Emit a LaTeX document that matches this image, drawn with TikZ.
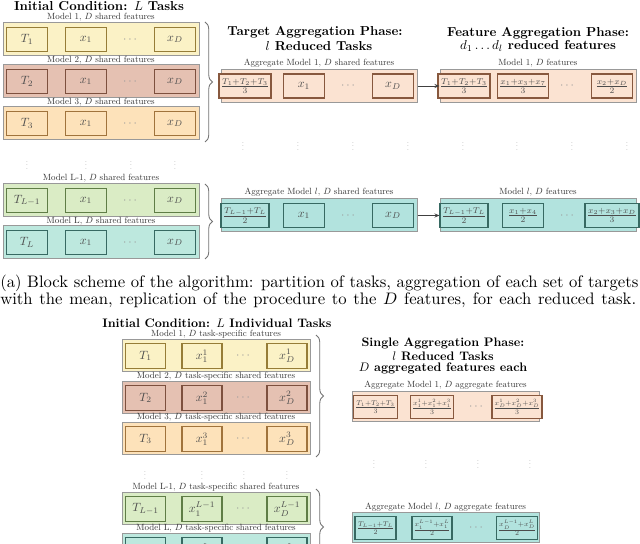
\documentclass[tikz,border=0pt]{standalone}
\usepackage{amsmath}
\usetikzlibrary{decorations.pathreplacing,arrows.meta}

\definecolor{yelF}{RGB}{251,242,198}
\definecolor{yelD}{RGB}{150,125,55}
\definecolor{salF}{RGB}{229,193,178}
\definecolor{salD}{RGB}{125,80,62}
\definecolor{oraF}{RGB}{253,226,186}
\definecolor{oraD}{RGB}{160,115,60}
\definecolor{peaF}{RGB}{251,227,210}
\definecolor{peaD}{RGB}{135,88,62}
\definecolor{grnF}{RGB}{218,236,197}
\definecolor{grnD}{RGB}{95,125,70}
\definecolor{tealF}{RGB}{189,232,222}
\definecolor{tealD}{RGB}{55,105,98}
\definecolor{tmF}{RGB}{178,227,222}

\newcommand\U{0.6pt}
\newcommand\cscale{0.72}
\newcommand\cnt[1]{\scalebox{\cscale}{#1}}
\newcommand\lbT[1]{\scalebox{0.54}{#1}}
\newcommand\ttT[1]{\scalebox{0.78}{\bfseries #1}}
\newcommand\ttB[1]{\scalebox{0.74}{\bfseries #1}}
\newcommand\geo[8]{\def\gW{#1}\def\gH{#2}\def\gA{#3}\def\gB{#4}\def\gC{#5}\def\gD{#6}\def\gIW{#7}\def\gIH{#8}}
% #1 name, #2 x0, #3 y0, #4 fill, #5 draw, #6 c1, #7 c2, #8 c4
\newcommand\rowbox[8]{%
  \node[outerbox, fill=#4, minimum width=\gW*\U, minimum height=\gH*\U] (#1) at ({#2+\gW/2},{#3+\gH/2}) {};
  \node[innerbox, draw=#5, fill=#4, minimum width=\gIW*\U, minimum height=\gIH*\U] (#1a) at ({#2+\gA},{#3+\gH/2}) {\cnt{#6}};
  \node[innerbox, draw=#5, fill=#4, minimum width=\gIW*\U, minimum height=\gIH*\U] (#1b) at ({#2+\gB},{#3+\gH/2}) {\cnt{#7}};
  \node[dotsn] (#1c) at ({#2+\gC},{#3+\gH/2}) {\scalebox{0.72}{$\cdots$}};
  \node[innerbox, draw=#5, fill=#4, minimum width=\gIW*\U, minimum height=\gIH*\U] (#1d) at ({#2+\gD},{#3+\gH/2}) {\cnt{#8}};
}

\tikzset{
  outerbox/.style={draw=black!40, line width=0.6pt, inner sep=0pt},
  innerbox/.style={line width=0.8pt, inner sep=1pt, text=black!70},
  dotsn/.style={text=black!40, inner sep=0pt},
  lbl/.style={text=black!80, inner sep=0pt},
  ttl/.style={inner sep=0pt},
  vd/.style={text=black!40, inner sep=0pt},
  brc/.style={draw=black!55, line width=0.5pt, decorate, decoration={brace, amplitude=4.5pt}},
  arr/.style={draw=black!75, line width=0.5pt, -{Stealth[length=3pt,width=2.4pt]}},
  captxt/.style={font=\fontsize{10}{12}\selectfont, inner sep=0pt, anchor=west},
}

\begin{document}
\begin{tikzpicture}[x=0.6pt, y=-0.6pt]
\useasboundingbox (0,0) rectangle (640,544);
\fill[white] (0,0) rectangle (640,544);
\begin{scope}
\clip (0,0) rectangle (640,544);

% ---------------- TOP PART ----------------
\node[ttl] (t0) at (99,6) {\ttT{Initial Condition: $L$ Tasks}};

\geo{196}{33}{24}{83}{128}{172}{41}{24}
\node[lbl] (l1) at (101,17) {\lbT{Model 1, $D$ shared features}};
\rowbox{p1}{3}{23}{yelF}{yelD}{$T_1$}{$x_1$}{$x_D$}
\node[lbl] (l2) at (101,60) {\lbT{Model 2, $D$ shared features}};
\rowbox{p2}{3}{65}{salF}{salD}{$T_2$}{$x_1$}{$x_D$}
\node[lbl] (l3) at (101,102) {\lbT{Model 3, $D$ shared features}};
\rowbox{p3}{3}{107}{oraF}{oraD}{$T_3$}{$x_1$}{$x_D$}

\foreach \xx [count=\i] in {27,86,131,175} \node[vd] (vl\i) at (\xx,163) {\scalebox{0.5}{$\vdots$}};

\node[lbl] (l4) at (101,178.5) {\lbT{Model L-1, $D$ shared features}};
\rowbox{p4}{3}{184}{grnF}{grnD}{$T_{L-1}$}{$x_1$}{$x_D$}
\node[lbl] (l5) at (101,221.5) {\lbT{Model L, $D$ shared features}};
\rowbox{p5}{3}{226}{tealF}{tealD}{$T_L$}{$x_1$}{$x_D$}

\coordinate (b1s) at (205,22); \coordinate (b1e) at (205,142);
\draw[brc] (b1s) -- (b1e);
\coordinate (b2s) at (205,184); \coordinate (b2e) at (205,259);
\draw[brc] (b2s) -- (b2e);

\node[ttl] (t1a) at (315,32) {\ttT{Target Aggregation Phase:}};
\node[ttl] (t1b) at (319,46) {\ttT{$l$ Reduced Tasks}};
\node[lbl] (ml1) at (319,63) {\lbT{Aggregate Model 1, $D$ shared features}};
\rowbox{m1}{221}{69.5}{peaF}{peaD}{$\frac{T_1+T_2+T_3}{3}$}{$x_1$}{$x_D$}
\node[lbl] (ml2) at (319,192) {\lbT{Aggregate Model $l$, $D$ shared features}};
\rowbox{m2}{221}{199}{tmF}{tealD}{$\frac{T_{L-1}+T_L}{2}$}{$x_1$}{$x_D$}

\node[ttl] (t2a) at (538,33) {\ttT{Feature Aggregation Phase:}};
\node[ttl] (t2b) at (538,46) {\ttT{$d_1\dots d_l$ reduced features}};
\node[lbl] (rl1) at (538,63) {\lbT{Model 1, $D$ features}};
\rowbox{r1}{440}{69.5}{peaF}{peaD}{$\frac{T_1+T_2+T_3}{3}$}{$\frac{x_1+x_3+x_7}{3}$}{$\frac{x_2+x_D}{2}$}
\node[lbl] (rl2) at (538,192) {\lbT{Model $l$, $D$ features}};
\rowbox{r2}{440}{199}{tmF}{tealD}{$\frac{T_{L-1}+T_L}{2}$}{$\frac{x_1+x_4}{2}$}{$\frac{x_2+x_3+x_D}{3}$}

\foreach \xx [count=\i] in {243,298,353,408,463,517,572,627} \node[vd] (vm\i) at (\xx,144) {\scalebox{0.5}{$\vdots$}};

\draw[arr] (m1) -- (r1);
\draw[arr] (m2) -- (r2);

% ---------------- CAPTION ----------------
\node[captxt] (c1) at (0,283) {\makebox[382.8pt][s]{(a) Block scheme of the algorithm: partition of tasks, aggregation of each set of targets}};
\node[captxt] (c2) at (0,300) {\makebox[381.5pt][s]{with the mean, replication of the procedure to the $D$ features, for each reduced task.}};

% ---------------- BOTTOM PART ----------------
\node[ttl] (t3) at (217,323) {\ttB{Initial Condition: $L$ Individual Tasks}};

\geo{188}{32}{23.5}{80}{122}{165}{40}{25}
\node[lbl] (q1l) at (216,334) {\lbT{Model 1, $D$ task-specific features}};
\rowbox{q1}{122}{340}{yelF}{yelD}{$T_1$}{$x_1^1$}{$x_D^1$}
\node[lbl] (q2l) at (216,376.5) {\lbT{Model 2, $D$ task-specific shared features}};
\rowbox{q2}{122}{382}{salF}{salD}{$T_2$}{$x_1^2$}{$x_D^2$}
\node[lbl] (q3l) at (216,417) {\lbT{Model 3, $D$ task-specific shared features}};
\rowbox{q3}{122}{423}{oraF}{oraD}{$T_3$}{$x_1^3$}{$x_D^3$}

\foreach \xx [count=\i] in {145,202,244,287} \node[vd] (vb\i) at (\xx,473) {\scalebox{0.5}{$\vdots$}};

\node[lbl] (q4l) at (216,487) {\lbT{Model L-1, $D$ task-specific shared features}};
\rowbox{q4}{122}{493}{grnF}{grnD}{$T_{L-1}$}{$x_1^{L-1}$}{$x_D^{L-1}$}
\node[lbl] (q5l) at (216,528.5) {\lbT{Model L, $D$ task-specific shared features}};
\rowbox{q5}{122}{534}{tealF}{tealD}{$T_L$}{$x_1^L$}{$x_D^L$}

\coordinate (b3s) at (316,335); \coordinate (b3e) at (316,457);
\draw[brc] (b3s) -- (b3e);
\coordinate (b4s) at (316,489); \coordinate (b4e) at (316,565);
\draw[brc] (b4s) -- (b4e);

\node[ttl] (t4a) at (443,343) {\ttB{Single Aggregation Phase:}};
\node[ttl] (t4b) at (443,356) {\ttB{$l$ Reduced Tasks}};
\node[ttl] (t4c) at (443,368) {\ttB{$D$ aggregated features each}};

\renewcommand\cscale{0.6}
\geo{187}{30}{23.5}{80}{125}{165}{39}{23}
\node[lbl] (s1l) at (445.5,385) {\lbT{Aggregate Model 1, $D$ aggregate features}};
\rowbox{s1}{352}{392}{peaF}{peaD}{$\frac{T_1+T_2+T_3}{3}$}{$\frac{x_1^1+x_1^2+x_1^3}{3}$}{$\frac{x_D^1+x_D^2+x_D^3}{3}$}
\node[lbl] (s2l) at (445.5,507) {\lbT{Aggregate Model $l$, $D$ aggregate features}};
\rowbox{s2}{352}{513}{tmF}{tealD}{$\frac{T_{L-1}+T_L}{2}$}{$\frac{x_1^{L-1}+x_1^L}{2}$}{$\frac{x_D^{L-1}+x_D^L}{2}$}

\foreach \xx [count=\i] in {374,426,478,530} \node[vd] (vs\i) at (\xx,462) {\scalebox{0.5}{$\vdots$}};

\end{scope}
\end{tikzpicture}
\end{document}
